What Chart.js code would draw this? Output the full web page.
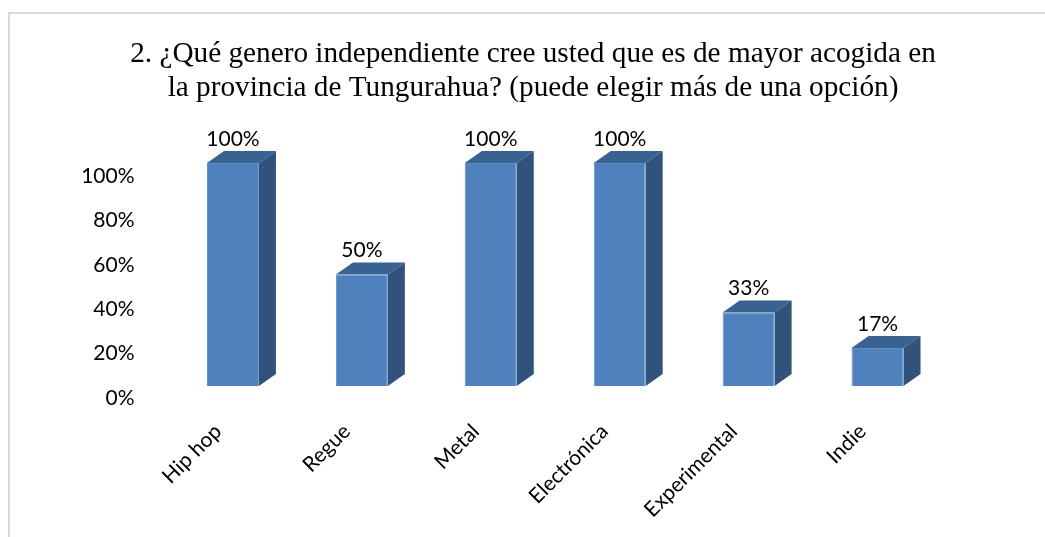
<!DOCTYPE html>
<html><head><meta charset="utf-8">
<style>
html,body{margin:0;padding:0;background:#fff;width:1045px;height:537px;overflow:hidden}
#frame{position:absolute;left:8px;top:12px;width:1037px;height:525px;border-top:2px solid #d9d9d9;border-left:2px solid #d9d9d9;box-sizing:border-box}
#wrap{position:absolute;left:21px;top:0;width:1024px;height:537px}
</style>
<script src="https://cdn.jsdelivr.net/npm/chart.js@4/dist/chart.umd.min.js"></script>
</head><body>
<div id="frame"></div>
<div id="wrap"><canvas id="c"></canvas></div>
<script>
const titleLines = ["2. ¿Qué genero independiente cree usted que es de mayor acogida en","la provincia de Tungurahua? (puede elegir más de una opción)"];
const categories = ["Hip hop","Regue","Metal","Electrónica","Experimental","Indie"];
const values = [100,50,100,100,33,17];
const dx = 17, dy = 12;
const cube = {
  id:'cube',
  beforeDatasetsDraw(chart){
    const ctx = chart.ctx;
    chart.getDatasetMeta(0).data.forEach(b=>{
      const l=b.x-b.width/2, r=b.x+b.width/2, t=b.y, bt=b.base;
      ctx.fillStyle='#3a6290';
      ctx.beginPath();ctx.moveTo(l,t);ctx.lineTo(l+dx,t-dy);ctx.lineTo(r+dx,t-dy);ctx.lineTo(r,t);ctx.closePath();ctx.fill();
      ctx.fillStyle='#31537b';
      ctx.beginPath();ctx.moveTo(r,t);ctx.lineTo(r+dx,t-dy);ctx.lineTo(r+dx,bt-dy);ctx.lineTo(r,bt);ctx.closePath();ctx.fill();
    });
  },
  afterDatasetsDraw(chart){
    const ctx = chart.ctx;
    ctx.save();
    ctx.fillStyle='#000';ctx.font='21px Lato';ctx.textAlign='center';ctx.textBaseline='middle';
    chart.getDatasetMeta(0).data.forEach((b,i)=>{
      ctx.fillText(values[i]+'%', b.x, b.y-24);
    });
    ctx.restore();
  }
};
new Chart(document.getElementById('c'),{
  type:'bar',
  plugins:[cube],
  data:{labels:categories,datasets:[{data:values,yAxisID:'y1',backgroundColor:'#4f81bd',borderColor:'#5f8fca',borderWidth:1,barPercentage:0.403,categoryPercentage:1}]},
  options:{
    responsive:true,maintainAspectRatio:false,animation:false,
    layout:{padding:0},
    plugins:{
      legend:{display:false},tooltip:{enabled:false},
      title:{display:true,text:titleLines,color:'#000',font:{family:'"Liberation Serif"',size:29.25,weight:'normal',lineHeight:1.18},padding:{top:37,bottom:46}}
    },
    scales:{
      x:{grid:{display:false},border:{display:false},
        ticks:{color:'#000',font:{family:'Lato',size:21},minRotation:45,maxRotation:45,padding:13,labelOffset:-15},
        afterFit(s){s.height=139}},
      y:{min:0,max:110.8,position:'left',grid:{display:false},border:{display:false},
        ticks:{autoSkip:false,stepSize:20,color:'#000',font:{family:'Lato',size:21},padding:26,callback:v=>v>100?'':v+'%'},
        afterFit(s){s.width=147.5}},
      y1:{display:false,min:-5.38,max:104.93},
      y2:{position:'right',grid:{display:false},border:{display:false},ticks:{display:false},afterFit(s){s.width=103}}
    }
  }
});
</script></body></html>
